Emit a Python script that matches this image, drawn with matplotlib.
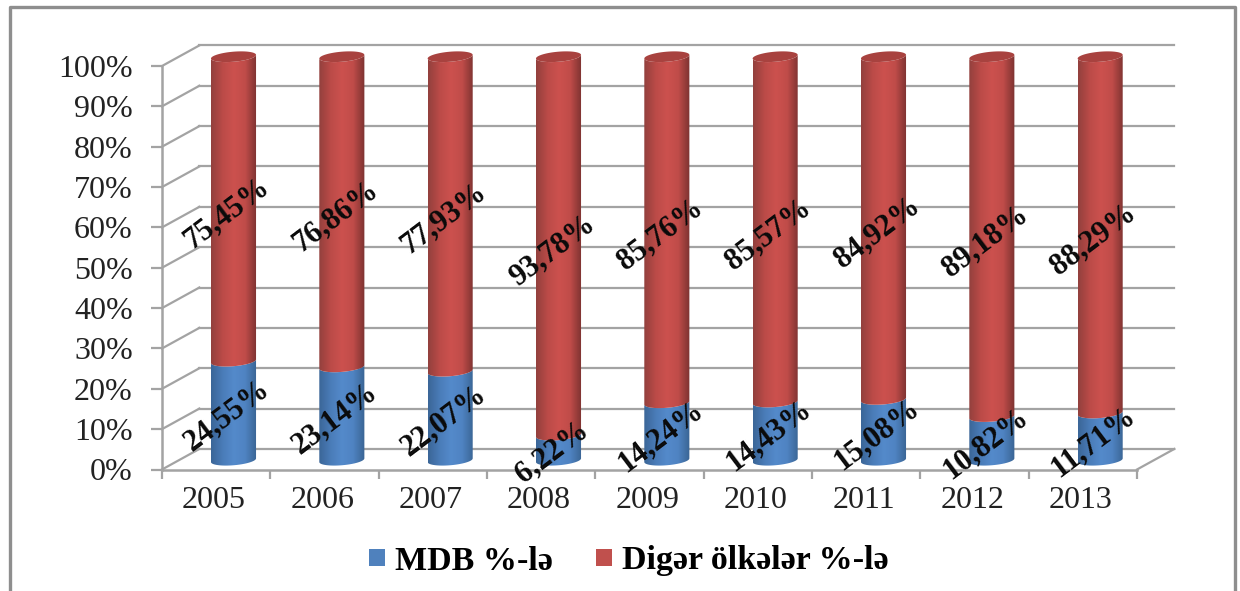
import numpy as np
import matplotlib
matplotlib.use('Agg')
import matplotlib.pyplot as plt
from matplotlib.colors import LinearSegmentedColormap
from matplotlib.lines import Line2D
from matplotlib.patches import Patch, PathPatch
from matplotlib.path import Path

years = ['2005', '2006', '2007', '2008', '2009', '2010', '2011', '2012', '2013']
mdb = [24.55, 23.14, 22.07, 6.22, 14.24, 14.43, 15.08, 10.82, 11.71]
other = [75.45, 76.86, 77.93, 93.78, 85.76, 85.57, 84.92, 89.18, 88.29]
pct_ticks = list(range(0, 101, 10))

W, H = 1240, 591
plt.rcParams['font.family'] = ['Liberation Serif', 'DejaVu Serif']
grey = '#a3a3a3'

blue_cm = LinearSegmentedColormap.from_list('b', ['#3b6698', '#4a7cb8', '#548acb', '#4f83c2', '#3a6594'])
red_cm = LinearSegmentedColormap.from_list('r', ['#93403d', '#bb4b48', '#cc514e', '#c04c49', '#7d3331'])

fig = plt.figure(figsize=(W / 100, H / 100), dpi=100)
ax = fig.add_axes([162 / W, 1 - 469.5 / H, 975 / W, 403.5 / H])
ax.set_facecolor('none')

# outer chart frame, runs off the bottom of the picture
fig.add_artist(Line2D([10 / W, 10 / W, 1235 / W, 1235 / W], [0, 1 - 7 / H, 1 - 7 / H, 0],
                      color='#8e8e8e', lw=2.4))

# how far the back wall sits from the front plane (in data units)
dx, dy = 0.345, 5.1
n = len(years)

# back wall, side wall and floor
for p in pct_ticks:
    ax.plot([0, dx], [p, p + dy], c=grey, lw=1.6, clip_on=False, zorder=1)
    ax.plot([dx, n + dx], [p + dy, p + dy], c=grey, lw=1.6, clip_on=False, zorder=1)
ax.plot([n, n + dx], [0, dy], c=grey, lw=1.6, clip_on=False, zorder=1)


def arc(xc, yc, rev=False):
    # front half of the cylinder's ellipse, slightly tilted like the original
    t = np.linspace(np.pi, 2 * np.pi, 40)
    xs = xc + 0.208 * np.cos(t)
    ys = yc + 1.25 * np.sin(t) + 0.45 * np.cos(t)
    pts = np.column_stack([xs, ys])
    return pts[::-1] if rev else pts


def cylinder(xc, y0, y1, cmap):
    pts = np.vstack([arc(xc, y0), arc(xc, y1, rev=True)])
    patch = PathPatch(Path(np.vstack([pts, pts[0]]), closed=True), fc='none', ec='none',
                      transform=ax.transData)
    ax.add_patch(patch)
    grad = np.linspace(0, 1, 64).reshape(1, -1)
    im = ax.imshow(grad, cmap=cmap, aspect='auto', zorder=3,
                   extent=[xc - 0.208, xc + 0.208, y0 - 3, y1 + 3])
    im.set_clip_path(patch)
    # images get cut at the axes box otherwise, and the tops stick out above 100
    im.set_clip_box(fig.bbox)


for i in range(n):
    xc = i + 0.66
    base = 2.3
    cylinder(xc, base, base + mdb[i], blue_cm)
    cylinder(xc, base + mdb[i], base + mdb[i] + other[i], red_cm)
    # lid
    t = np.linspace(0, 2 * np.pi, 60)
    ax.fill(xc + 0.208 * np.cos(t),
            base + 100 + 1.25 * np.sin(t) + 0.45 * np.cos(t),
            c='#a8423f', zorder=4, clip_on=False, lw=0)
    for v0, v in ((0, mdb[i]), (mdb[i], other[i])):
        ax.text(xc - 0.06, base + v0 + v / 2 - 1.2, f'{v:.2f}%'.replace('.', ','),
                rotation=37, rotation_mode='anchor', ha='center', va='center',
                fontsize=22, fontweight='bold', color='#0a0a0a', zorder=6, clip_on=False)

ax.set_xlim(0, n)
ax.set_ylim(0, 100)

for s in ('top', 'right'):
    ax.spines[s].set_visible(False)
for s in ('left', 'bottom'):
    ax.spines[s].set_color(grey)
    ax.spines[s].set_linewidth(1.8)
    ax.spines[s].set_zorder(2)

ax.set_yticks(pct_ticks, [f'{p}%' for p in pct_ticks])
ax.set_xticks(np.arange(n + 1), [''] * (n + 1))
ax.set_xticks(np.arange(n) + 0.48, years, minor=True)
ax.tick_params(axis='y', length=8, width=1.6, color=grey, pad=13, labelsize=23, labelcolor='#222222')
ax.tick_params(axis='x', which='major', length=6.5, width=1.6, color=grey)
ax.tick_params(axis='x', which='minor', length=0, pad=12, labelsize=23, labelcolor='#222222')

handles = [Patch(fc='#4f81bd', label='MDB %-lə'), Patch(fc='#c0504d', label='Digər ölkələr %-lə')]
fig.legend(handles=handles, ncol=2, frameon=False, loc='center', bbox_to_anchor=(629 / W, 1 - 561 / H),
           prop={'weight': 'bold', 'size': 24.5}, handlelength=0.48, handleheight=0.42,
           handletextpad=0.3, columnspacing=1.25, borderpad=0)

fig.savefig('out.png', dpi=100)
